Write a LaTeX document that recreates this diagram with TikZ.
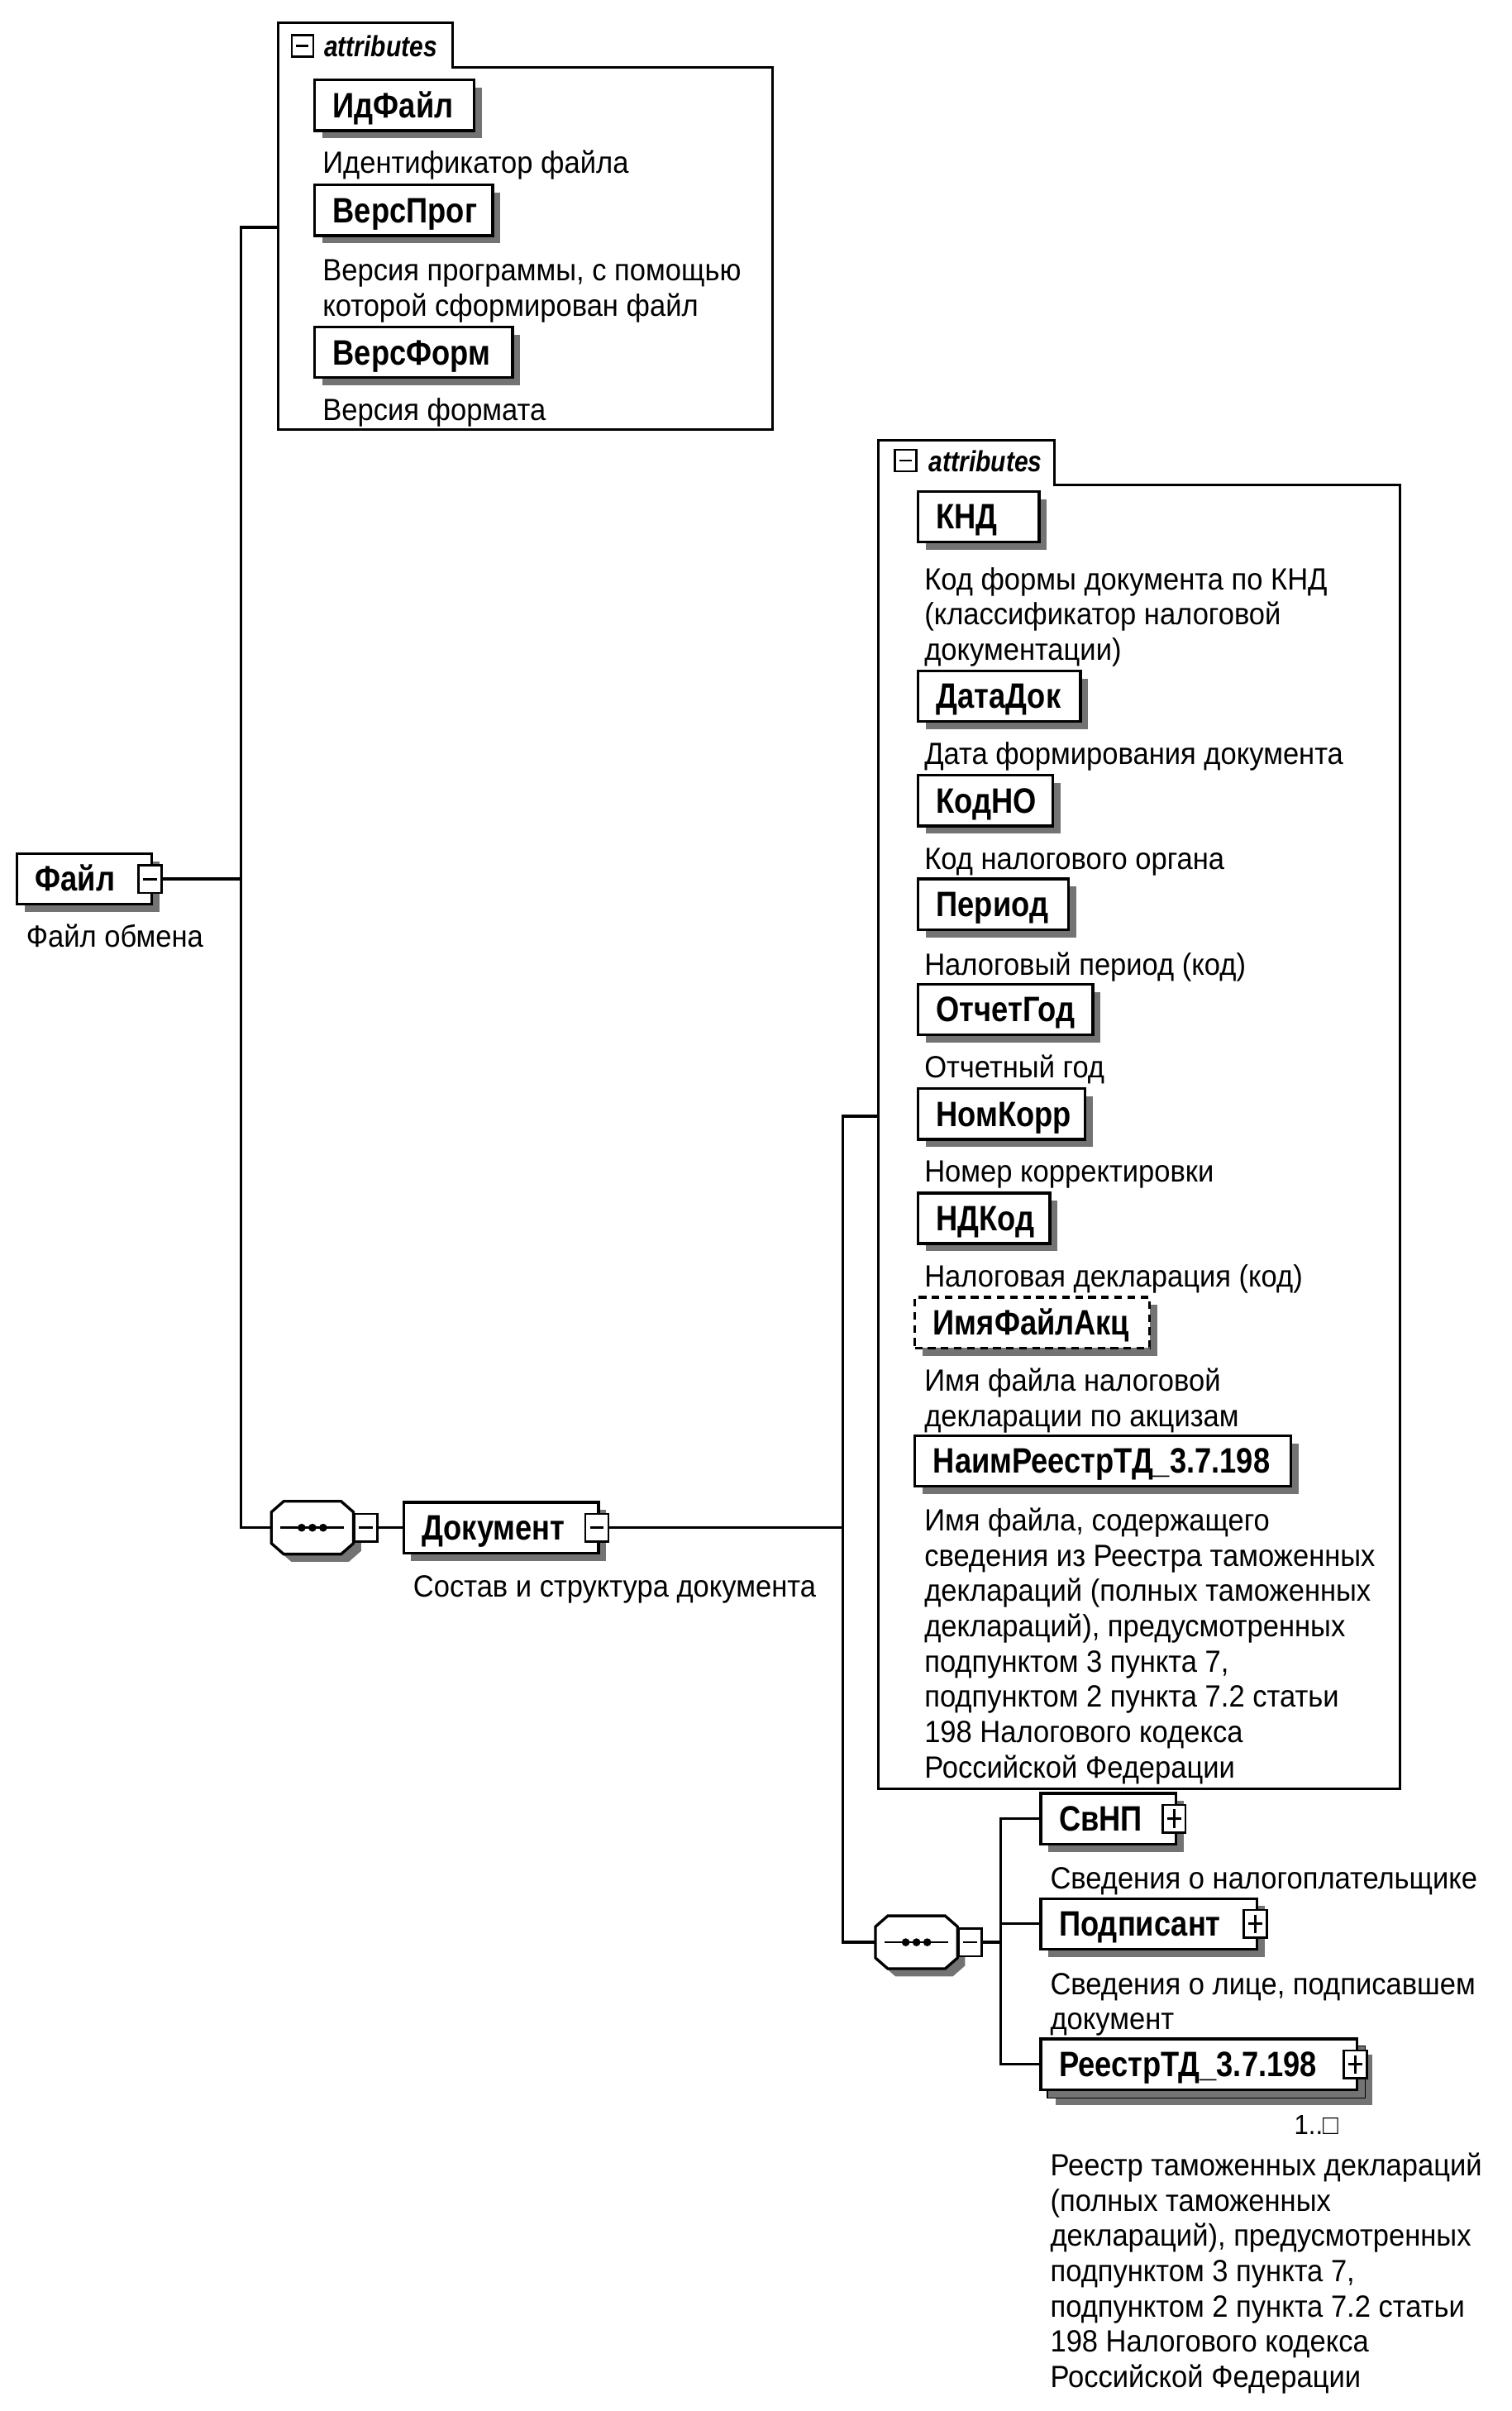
\documentclass[tikz,border=0pt]{standalone}
\usepackage{fontspec}
\setmainfont{Liberation Sans}[FakeStretch=0.93]
\newfontfamily\namefont{Liberation Sans}[FakeStretch=0.85]
\usetikzlibrary{calc,shadows}
\definecolor{shadowgray}{gray}{0.45}
\newcommand\octpath[3]{($(#1.north west)+(8+#2,#3)$) -- ($(#1.north east)+(-8+#2,#3)$) -- ($(#1.north east)+(#2,7+#3)$) -- ($(#1.south east)+(#2,-7+#3)$) -- ($(#1.south east)+(-8+#2,#3)$) -- ($(#1.south west)+(8+#2,#3)$) -- ($(#1.south west)+(#2,-7+#3)$) -- ($(#1.north west)+(#2,7+#3)$) -- cycle}
\newcommand\drawseqshape[1]{%
  \fill[shadowgray] \octpath{#1}{5}{5};
  \filldraw[fill=white, line width=1.8pt] \octpath{#1}{0}{0};
  \draw[line width=1.5pt] ($(#1.west)+(6,0)$) -- ($(#1.east)+(-6,0)$);
  \fill ($(#1.center)+(-7,0)$) circle (2.6pt) (#1.center) circle (2.6pt) ($(#1.center)+(7,0)$) circle (2.6pt);}
\tikzset{
  shd/.style={general shadow={shadow xshift=5pt, shadow yshift=-5pt, fill=shadowgray}},
  elem/.style={draw, line width=1.8pt, fill=white, anchor=west, minimum height=33pt,
    inner xsep=12pt, inner ysep=0pt, align=left, text height=17pt, text depth=1pt,
    font=\namefont\bfseries\fontsize{23}{25}\selectfont, shd},
  btn/.style={draw, line width=1.4pt, fill=white, minimum width=15pt, minimum height=18pt, inner sep=0pt},
  minusbtn/.style={btn, path picture={\draw[line width=1.5pt]
      ([xshift=3pt]path picture bounding box.west) -- ([xshift=-3pt]path picture bounding box.east);}},
  plusbtn/.style={btn, path picture={\draw[line width=1.5pt]
      ([xshift=3pt]path picture bounding box.west) -- ([xshift=-3pt]path picture bounding box.east)
      ([yshift=-3pt]path picture bounding box.north) -- ([yshift=3pt]path picture bounding box.south);}},
  tabbtn/.style={draw, line width=1.4pt, fill=white, minimum width=14pt, minimum height=14pt, inner sep=0pt,
    path picture={\draw[line width=1.5pt]
      ([xshift=3pt]path picture bounding box.west) -- ([xshift=-3pt]path picture bounding box.east);}},
  seqbox/.style={rectangle, draw=none, minimum width=53pt, minimum height=34pt, inner sep=0pt},
  cont/.style={line width=1.6pt},
  conn/.style={line width=1.8pt},
  attrlbl/.style={anchor=base west, inner sep=0pt, font=\namefont\bfseries\itshape\fontsize{19}{21}\selectfont},
  desc/.style={anchor=base west, align=left, inner sep=0pt, font=\fontsize{20}{23}\selectfont},
}
\begin{document}
\begin{tikzpicture}[x=1pt,y=-1pt]
\useasboundingbox[fill=white] (0,0) rectangle (984.9,1570.3);

% ---------- top attributes container
\draw[cont] (181,15) -- (295,15) -- (295,44) -- (503,44) -- (503,280) -- (181,280) -- cycle;
\node[tabbtn] (tb1) at (197,30) {};
\node[attrlbl] (ta1) at (211,37) {attributes};
\coordinate (c1in) at (181,148);

\node[elem, text width=80pt] (idf) at (204,68.5) {ИдФайл};
\node[desc] (didf) at (210,113) {Идентификатор файла};
\node[elem, text width=92pt] (vprog) at (204,137) {ВерсПрог};
\node[desc] (dvprog) at (210,206) {Версия программы, с помощью\\которой сформирован файл};
\node[elem, text width=105pt] (vform) at (204,229.5) {ВерсФорм};
\node[desc] (dvform) at (210,274) {Версия формата};

% ---------- root
\node[elem, text width=64pt] (fajl) at (10,572.5) {Файл};
\node[minusbtn] (fbtn) at ([xshift=-2pt]fajl.east) {};
\node[desc] (dfajl) at (17,617) {Файл обмена};

% ---------- sequence 1 and Документ
\node[seqbox] (seq1) at (203.5,995) {};
\drawseqshape{seq1}
\node[minusbtn, anchor=west] (seq1btn) at (seq1.east) {};
\node[elem, text width=103pt] (doc) at (262,995) {Документ};
\node[minusbtn] (docbtn) at ([xshift=-2pt]doc.east) {};
\node[desc] (ddoc) at (269,1040) {Состав и структура документа};

% ---------- second attributes container
\draw[cont] (572,287) -- (687,287) -- (687,316) -- (912,316) -- (912,1165) -- (572,1165) -- cycle;
\node[tabbtn] (tb2) at (590,300) {};
\node[attrlbl] (ta2) at (605,307) {attributes};
\coordinate (c2in) at (572,727);

\node[elem, text width=55pt] (knd) at (597,336.5) {КНД};
\node[desc] (dknd) at (602,430) {Код формы документа по КНД\\(классификатор налоговой\\документации)};
\node[elem, text width=82pt] (datadok) at (597,453.5) {ДатаДок};
\node[desc] (ddatadok) at (602,498) {Дата формирования документа};
\node[elem, text width=64pt] (kodno) at (597,521.5) {КодНО};
\node[desc] (dkodno) at (602,566) {Код налогового органа};
\node[elem, text width=74pt] (period) at (597,589) {Период};
\node[desc] (dperiod) at (602,635) {Налоговый период (код)};
\node[elem, text width=90pt] (otchgod) at (597,657.5) {ОтчетГод};
\node[desc] (dotchgod) at (602,702) {Отчетный год};
\node[elem, text width=85pt] (nomkorr) at (597,725.5) {НомКорр};
\node[desc] (dnomkorr) at (602,770) {Номер корректировки};
\node[elem, text width=62pt] (ndkod) at (597,793.5) {НДКод};
\node[desc] (dndkod) at (602,838) {Налоговая декларация (код)};
\node[elem, dashed, dash pattern=on 5pt off 3.5pt, text width=129pt] (imyafa) at (595,861.5) {ИмяФайлАкц};
\node[desc] (dimyafa) at (602,929) {Имя файла налоговой\\декларации по акцизам};
\node[elem, text width=221pt] (naimr) at (595,951.5) {НаимРеестрТД\_3.7.198};
\node[desc] (dnaimr) at (602,1158) {Имя файла, содержащего\\сведения из Реестра таможенных\\деклараций (полных таможенных\\деклараций), предусмотренных\\подпунктом 3 пункта 7,\\подпунктом 2 пункта 7.2 статьи\\198 Налогового кодекса\\Российской Федерации};

% ---------- sequence 2 and children
\node[seqbox] (seq2) at (597,1265) {};
\drawseqshape{seq2}
\node[minusbtn, anchor=west] (seq2btn) at (seq2.east) {};

\node[elem, text width=64pt] (svnp) at (677,1184.5) {СвНП};
\node[plusbtn] (svnpbtn) at ([xshift=-2pt]svnp.east) {};
\node[desc] (dsvnp) at (684,1230) {Сведения о налогоплательщике};

\node[elem, text width=117pt] (podp) at (677,1253) {Подписант};
\node[plusbtn] (podpbtn) at ([xshift=-2pt]podp.east) {};
\node[desc] (dpodp) at (684,1322) {Сведения о лице, подписавшем\\документ};

\node[elem, text width=182pt] (rtdback) at (682,1349.5) {\phantom{РеестрТД}};
\node[elem, text width=182pt, general shadow={}] (rtd) at (677,1344.5) {РеестрТД\_3.7.198};
\node[plusbtn] (rtdbtn) at ([xshift=-2pt]rtd.east) {};
\node[anchor=base east, inner sep=0pt, font=\fontsize{18}{20}\selectfont] (mult) at (872,1390) {1..□};
\node[desc] (drtd) at (684,1555) {Реестр таможенных деклараций\\(полных таможенных\\деклараций), предусмотренных\\подпунктом 3 пункта 7,\\подпунктом 2 пункта 7.2 статьи\\198 Налогового кодекса\\Российской Федерации};

% ---------- connectors
\coordinate (v1a) at (157,148);
\coordinate (v1b) at (157,995);
\draw[conn] (fbtn.east) -- (fbtn.east -| v1a);
\draw[conn] (c1in) -- (v1a) -- (v1b) -- (seq1.west);
\draw[conn] (seq1btn.east) -- (doc.west);
\coordinate (v2a) at (549,727);
\coordinate (v2b) at (549,1265);
\draw[conn] (docbtn.east) -- (docbtn.east -| v2a);
\draw[conn] (c2in) -- (v2a) -- (v2b) -- (seq2.west);
\coordinate (v3a) at (652,1184.5);
\coordinate (v3b) at (652,1344.5);
\draw[conn] (seq2btn.east) -- (seq2btn.east -| v3a);
\draw[conn] (svnp.west) -- (v3a) -- (v3b) -- (rtd.west);
\draw[conn] (podp.west) -- (podp.west -| v3a);
\end{tikzpicture}
\end{document}
